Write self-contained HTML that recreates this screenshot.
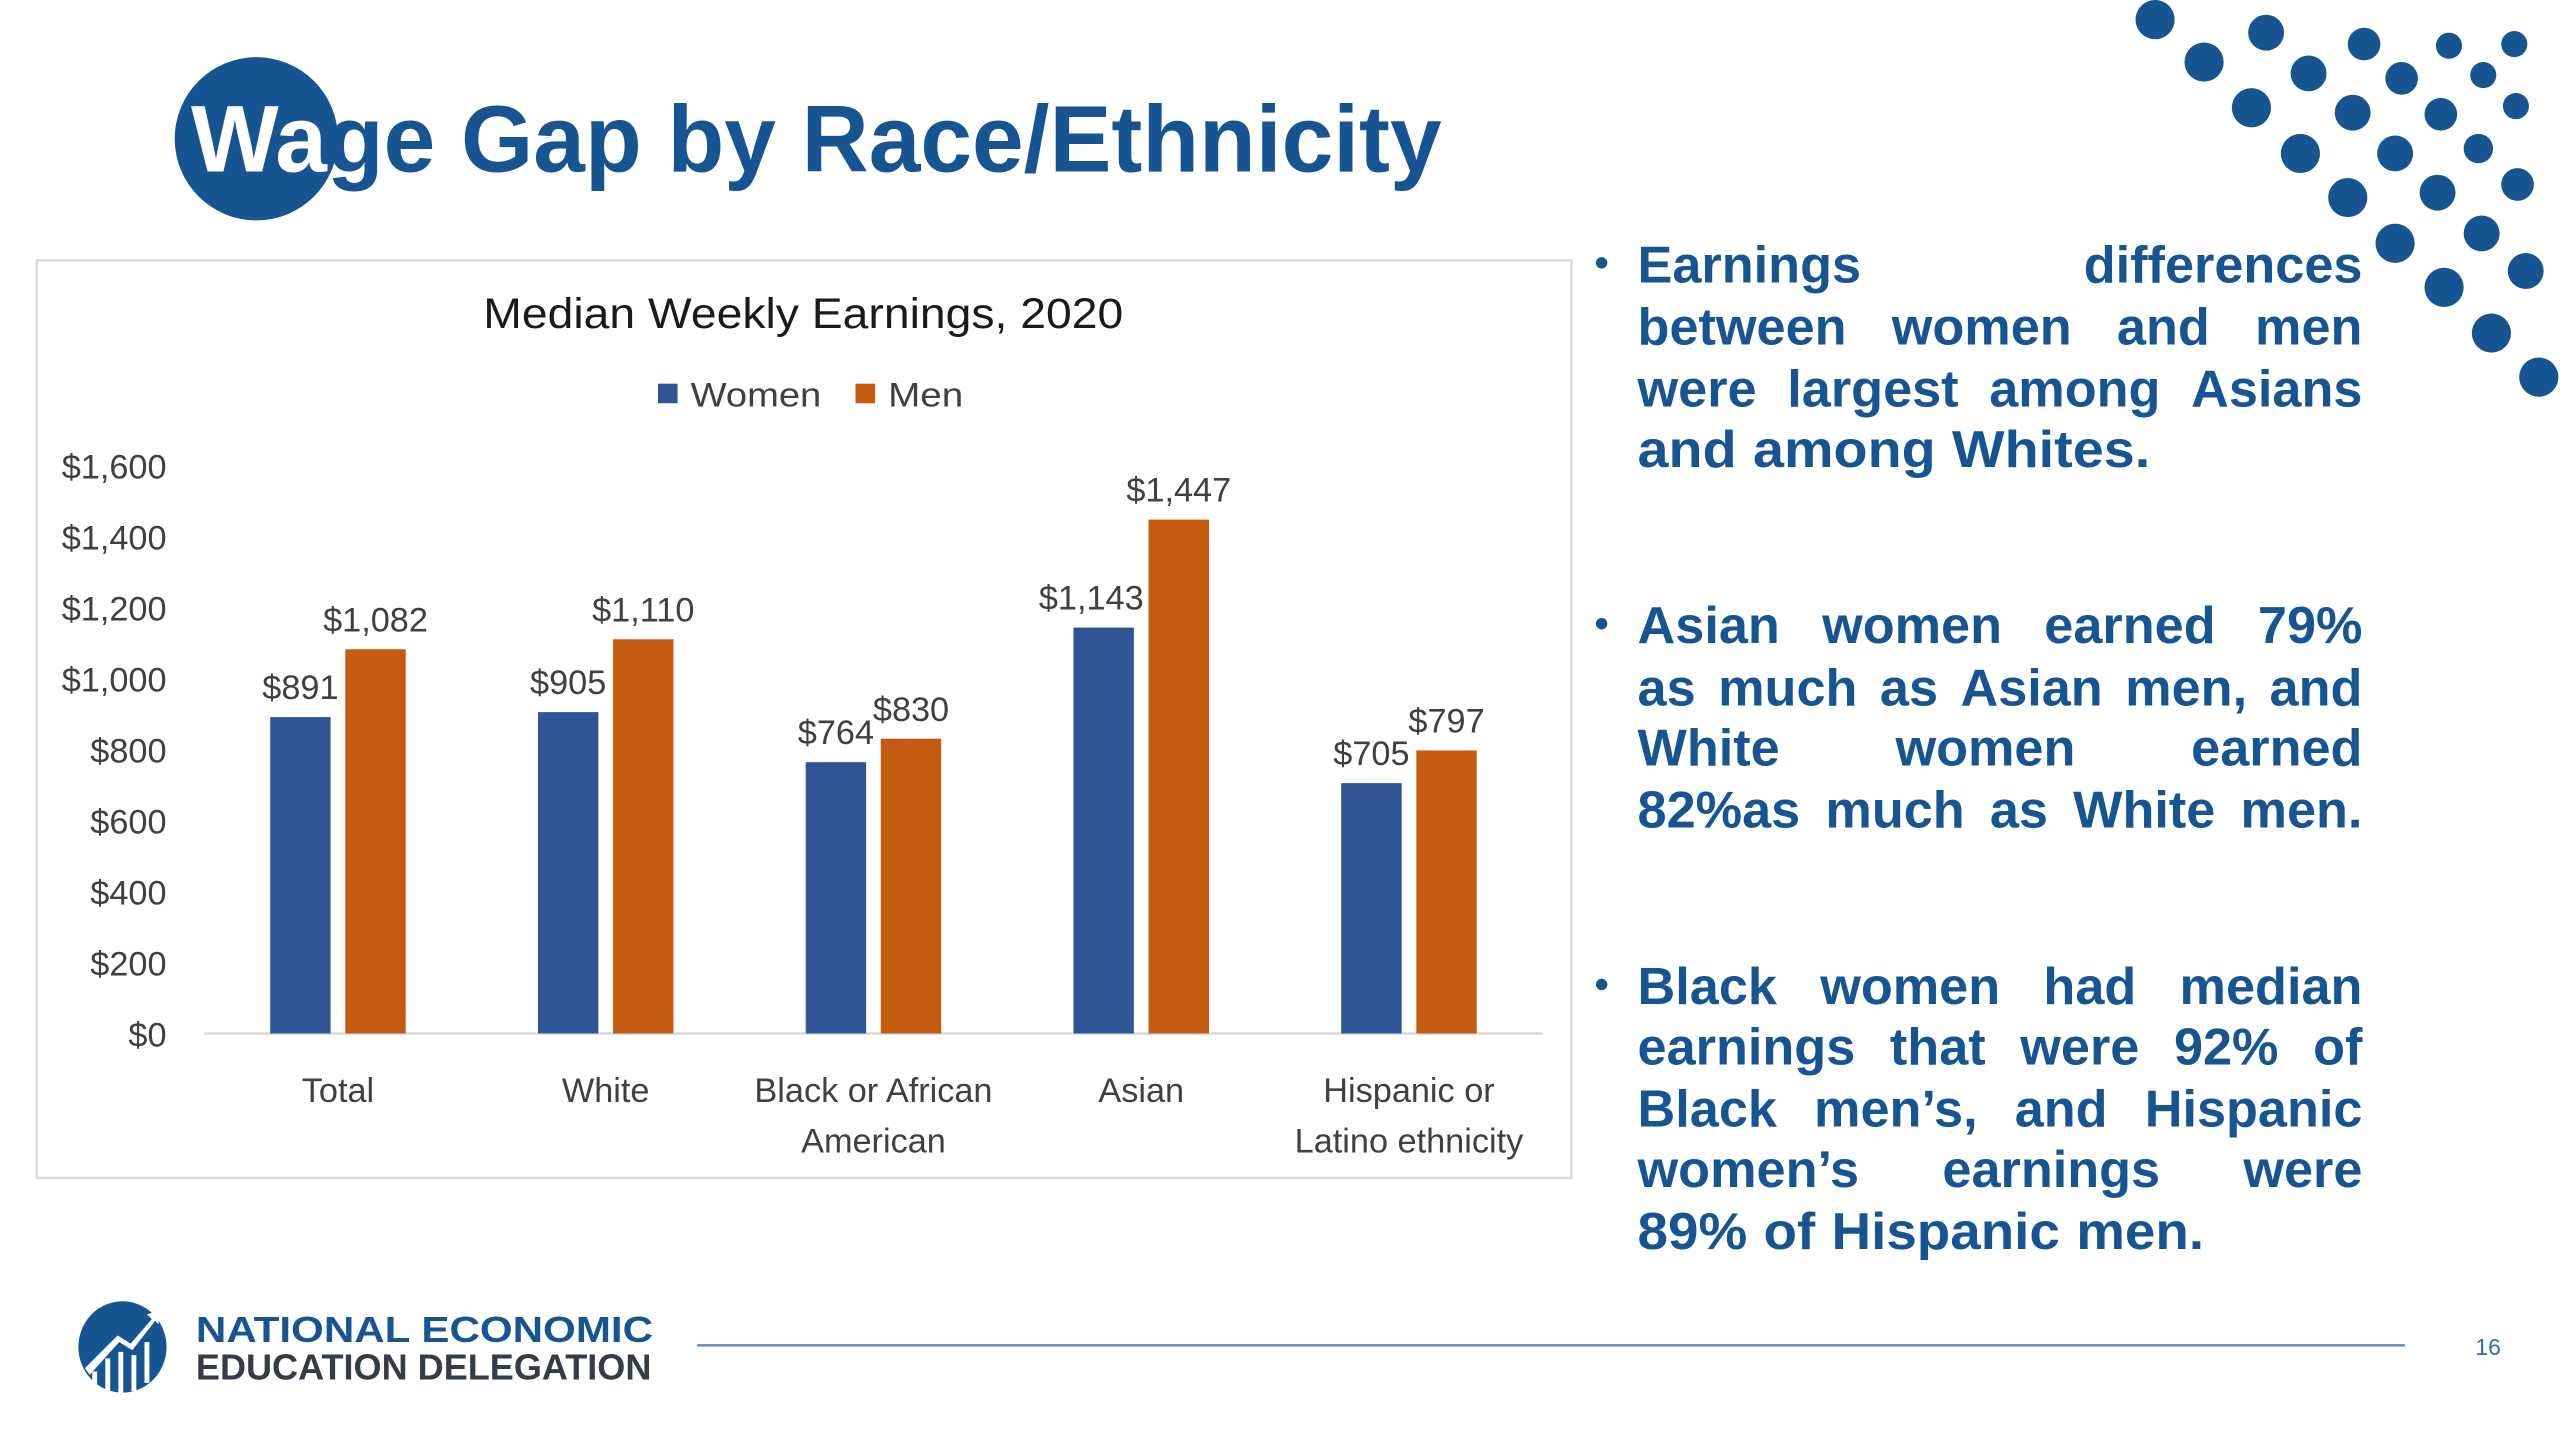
<!DOCTYPE html>
<html><head><meta charset="utf-8"><style>
html,body{margin:0;padding:0;background:#fff;}
svg{display:block;}
text{font-family:"Liberation Sans",sans-serif;}
</style></head><body>
<svg id="s" width="2560" height="1440" viewBox="0 0 1568 882" preserveAspectRatio="none" xmlns="http://www.w3.org/2000/svg">
<rect width="1568" height="882" fill="#fff"/>
<g id="dots" fill="#175592"></g>
<g>
<circle cx="157" cy="85" r="50" fill="#175592"/>
<text x="117" y="105" font-size="58" font-weight="bold" fill="#175592" textLength="766" lengthAdjust="spacingAndGlyphs"><tspan fill="#fff">Wa</tspan>ge Gap by Race/Ethnicity</text>
</g>
<rect x="22.5" y="159.5" width="940" height="562" fill="#fff" stroke="#d9d9d9" stroke-width="1.5"/>
<text x="492" y="201" font-size="26" fill="#1a1a1a" text-anchor="middle" textLength="392" lengthAdjust="spacingAndGlyphs">Median Weekly Earnings, 2020</text>
<g>
<rect x="403" y="235" width="12" height="12" fill="#2f5597"/>
<text x="423" y="249" font-size="21" fill="#404040" textLength="80" lengthAdjust="spacingAndGlyphs">Women</text>
<rect x="524" y="235" width="12" height="12" fill="#c55a11"/>
<text x="544" y="249" font-size="21" fill="#404040" textLength="46" lengthAdjust="spacingAndGlyphs">Men</text>
</g>
<g id="chart"></g>
<g id="bullets" fill="#175592" font-weight="bold" font-size="32"></g>
<g>
<g>
<ellipse cx="75" cy="825" rx="27" ry="28" fill="#175592"/>
<path d="M52 838 L72 818 L80 823 L93 808 L90 805 L98 803 L97 811 L95 809 L81 827 L73 822 L55 842 Z" fill="#fff"/>
<g stroke="#fff" stroke-width="3"><line x1="58" y1="840" x2="58" y2="850"/><line x1="66" y1="832" x2="66" y2="853"/><line x1="74" y1="828" x2="74" y2="853"/><line x1="82" y1="830" x2="82" y2="852"/><line x1="90" y1="822" x2="90" y2="847"/></g>
</g>
<text x="120" y="822" font-size="22" font-weight="bold" fill="#175592" textLength="280" lengthAdjust="spacingAndGlyphs">NATIONAL ECONOMIC</text>
<text x="120" y="845" font-size="22" font-weight="bold" fill="#333c48" textLength="279" lengthAdjust="spacingAndGlyphs">EDUCATION DELEGATION</text>
<line x1="427" y1="824" x2="1473" y2="824" stroke="#5b86c0" stroke-width="1.5"/>
<text x="1524" y="830" font-size="14" fill="#2e6db0" text-anchor="middle">16</text>
</g>
</svg>
<script>
const categories1 = ["Total","White","Black or African","Asian","Hispanic or"];
const categories2 = ["","","American","","Latino ethnicity"];
const women = [891,905,764,1143,705];
const men = [1082,1110,830,1447,797];
const yTicks = [0,200,400,600,800,1000,1200,1400,1600];
const NS="http://www.w3.org/2000/svg";
const chart=document.getElementById('chart');
const x0=125,x1=945,y0=633,y1=285,yMax=1600;
const step=(x1-x0)/categories1.length;
function yS(v){return y0-(v/yMax)*(y0-y1);}
function xC(i){return x0+step*(i+0.5);}
function mk(tag,attrs,txt){const e=document.createElementNS(NS,tag);for(const k in attrs)e.setAttribute(k,attrs[k]);if(txt!==undefined)e.textContent=txt;chart.appendChild(e);return e;}
function fmt(v){return '$'+v.toLocaleString('en-US');}
yTicks.forEach(t=>{
  const e=mk('text',{x:102,y:yS(t)+8,'font-size':21,fill:'#404040','text-anchor':'end'},fmt(t));
  
  
});
const ax=mk('line',{x1:x0,y1:y0,x2:x1,y2:y0,stroke:'#d9d9d9','stroke-width':1.5});


const bw=37;
categories1.forEach((c,i)=>{
  const cx=xC(i);
  [[women,'#2f5597',-23,'women'],[men,'#c55a11',23,'men']].forEach(([arr,col,off,nm])=>{
    const v=arr[i];
    const r=mk('rect',{x:cx+off-bw/2,y:yS(v),width:bw,height:y0-yS(v),fill:col});
    
    
    const l=mk('text',{x:cx+off,y:yS(v)-11,'font-size':21,fill:'#404040','text-anchor':'middle'},fmt(v));
    
    
    if(nm==='women'){
      const w=l.getComputedTextLength();
      const menTop=yS(men[i]);
      const menLeft=cx+23-bw/2;
      if(menTop<yS(v)-30 && cx+off+w/2>menLeft-2){
        l.setAttribute('x',menLeft-3-w/2);
      }
    }
  });
  const t1=mk('text',{x:cx,y:675,'font-size':21,fill:'#404040','text-anchor':'middle'},c);
  
  
  if(categories2[i]){
    const t2=mk('text',{x:cx,y:706,'font-size':21,fill:'#404040','text-anchor':'middle'},categories2[i]);
    
    
  }
});
// dots
const dots=[[1320,12,12],[1388,20,11],[1448,27,10],[1500,28,8],[1540,27,8],[1350,38,12],[1414,45,11],[1471,48,10],[1521,46,8],[1379,66,12],[1441,69,11],[1495,70,10],[1541,65,8],[1409,94,12],[1467,94,11],[1518,91,9],[1438,121,12],[1493,118,11],[1542,113,10],[1467,149,12],[1520,143,11],[1497,176,12],[1547,166,11],[1526,204,12],[1555,231,12]];
const dg=document.getElementById('dots');
dots.forEach(d=>{const c=document.createElementNS(NS,'circle');c.setAttribute('cx',d[0]);c.setAttribute('cy',d[1]);c.setAttribute('r',d[2]);


dg.appendChild(c);});
// bullets: [baseline, text, width, bulletStart, justified]
const lines=[
 [173,"Earnings differences",444,true,true],[211,"between women and men",444,false,true],[249,"were largest among Asians",444,false,true],[286,"and among Whites.",314,false,false],
 [394,"Asian women earned 79%",444,true,true],[432,"as much as Asian men, and",444,false,true],[469,"White women earned",444,false,true],[507,"82%as much as White men.",444,false,true],
 [615,"Black women had median",444,true,true],[652,"earnings that were 92% of",444,false,true],[690,"Black men’s, and Hispanic",444,false,true],[727,"women’s earnings were",444,false,true],[765,"89% of Hispanic men.",347,false,false]];
const bg=document.getElementById('bullets');
const LX=1003;
const CAL=1.0;
lines.forEach(l=>{
  if(l[3]){const c=document.createElementNS(NS,'circle');c.setAttribute('cx',981);c.setAttribute('cy',l[0]-12);c.setAttribute('r',3.5);
  
  
  bg.appendChild(c);}
  const words=l[1].split(' ');
  const els=words.map(w=>{
    const t=document.createElementNS(NS,'text');
    t.setAttribute('y',l[0]);t.setAttribute('x',LX);
    t.textContent=w;
    
    
    bg.appendChild(t);return t;});
  const ws=els.map(e=>e.getComputedTextLength());
  const sum=ws.reduce((a,b)=>a+b,0);
  const n=words.length;
  const minGap=10;
  let scale=CAL;
  if(l[4]){ if(sum*scale+(n-1)*minGap>l[2]) scale=(l[2]-(n-1)*minGap)/sum; }
  else { scale=(l[2]-(n-1)*minGap)/sum; }
  const sw=ws.map(w=>w*scale);
  const ssum=sw.reduce((a,b)=>a+b,0);
  const gap=n>1?(l[2]-ssum)/(n-1):0;
  let x=LX;
  els.forEach((e,i)=>{
    e.setAttribute('x',x);
    e.setAttribute('textLength',sw[i]);e.setAttribute('lengthAdjust','spacingAndGlyphs');
    x+=sw[i]+gap;
  });
});
</script>
</body></html>
